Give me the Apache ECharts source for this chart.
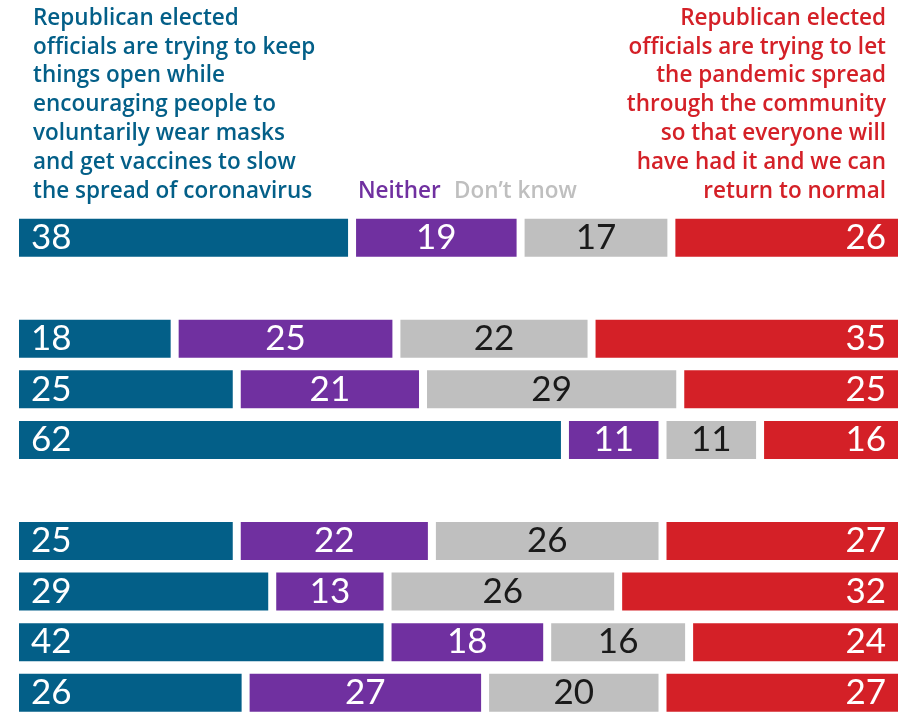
<!DOCTYPE html>
<html>
<head>
<meta charset="utf-8">
<script src="https://cdn.jsdelivr.net/npm/echarts@6/dist/echarts.min.js"></script>
<style>html,body{margin:0;padding:0;background:#fff}#c{width:902px;height:718px}</style>
</head>
<body>
<div id="c"></div>
<script>
// Rows (top to bottom); blank spacer rows have null values
const categories = ['Total', 'spacer1', 'G1a', 'G1b', 'G1c', 'spacer2', 'G2a', 'G2b', 'G2c', 'G2d'];
const keepOpen   = [38, null, 18, 25, 62, null, 25, 29, 42, 26];
const neither    = [19, null, 25, 21, 11, null, 22, 13, 18, 27];
const dontKnow   = [17, null, 22, 29, 11, null, 26, 26, 16, 20];
const letSpread  = [26, null, 35, 25, 16, null, 27, 32, 24, 27];

const leftHeader  = 'Republican elected\nofficials are trying to keep\nthings open while\nencouraging people to\nvoluntarily wear masks\nand get vaccines to slow\nthe spread of coronavirus';
const rightHeader = 'Republican elected\nofficials are trying to let\nthe pandemic spread\nthrough the community\nso that everyone will\nhave had it and we can\nreturn to normal';

const BLUE = '#035f88', PURPLE = '#7030a0', GRAY = '#bfbfbf', RED = '#d42027';
const NUMFONT = 'Lato, "Noto Sans", sans-serif';
const HEADFONT = '"Open Sans", "Noto Sans", sans-serif';

function mk(name, data, color, pos, labelColor, dist) {
  return {
    name, type: 'bar', stack: 'all', data,
    barWidth: 46,
    itemStyle: { color, borderColor: '#ffffff', borderWidth: 4 },
    label: {
      show: true, position: pos, distance: dist,
      color: labelColor, fontSize: 35, fontFamily: NUMFONT, fontWeight: 'normal'
    },
    emphasis: { disabled: true },
    animation: false
  };
}

function headText(x, y, text, color, align, lh) {
  return {
    type: 'text', x, y, silent: true,
    style: {
      text, fill: color, align, verticalAlign: 'top',
      font: '600 22.5px ' + HEADFONT, lineHeight: lh
    }
  };
}

const chart = echarts.init(document.getElementById('c'), null, { renderer: 'canvas' });
chart.setOption({
  backgroundColor: '#ffffff',
  animation: false,
  graphic: [
    headText(33, 4, leftHeader, BLUE, 'left', 28.8),
    headText(886, 4, rightHeader, RED, 'right', 28.8),
    headText(358, 177, 'Neither', PURPLE, 'left', 28.8),
    headText(454, 177, 'Don\u2019t know', GRAY, 'left', 28.8)
  ],
  grid: { left: 15, right: -2, top: 212.4, height: 513, containLabel: false },
  xAxis: { type: 'value', min: 0, max: 100, show: false },
  yAxis: { type: 'category', data: categories, inverse: true, show: false },
  series: [
    mk('Keep open', keepOpen, BLUE, 'insideLeft', '#ffffff', 16),
    mk('Neither', neither, PURPLE, 'inside', '#ffffff', 5),
    mk('Don\u2019t know', dontKnow, GRAY, 'inside', '#1a1a1a', 5),
    mk('Let spread', letSpread, RED, 'insideRight', '#ffffff', 16)
  ]
});
</script>
</body>
</html>
